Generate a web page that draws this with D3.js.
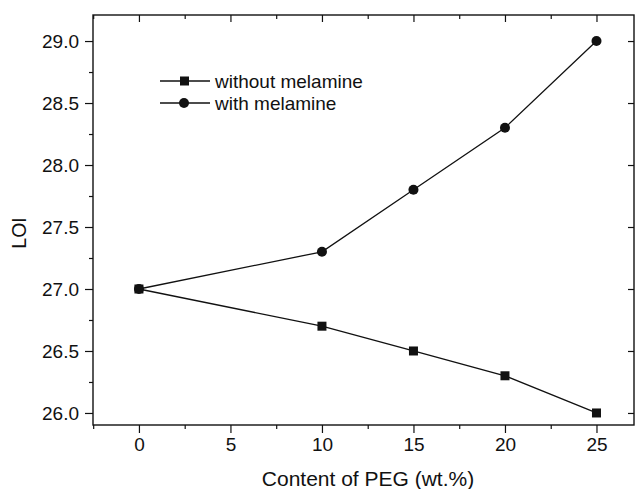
<!DOCTYPE html>
<html><head><meta charset="utf-8">
<script src="https://cdn.jsdelivr.net/npm/d3@7"></script>
<style>body{margin:0;background:#fff}svg{display:block}text{font-family:"Liberation Sans",Arial,sans-serif;fill:#111}</style>
</head><body>
<script>
const xValues = [0, 10, 15, 20, 25];
const withoutMelamine = [27.0, 26.7, 26.5, 26.3, 26.0];
const withMelamine = [27.0, 27.3, 27.8, 28.3, 29.0];
const xTicks = [0, 5, 10, 15, 20, 25];
const yTicks = [26.0, 26.5, 27.0, 27.5, 28.0, 28.5, 29.0];
const seriesNames = ["without melamine", "with melamine"];

const W = 635, H = 489;
const L = 93, R = 634, T = 15, B = 425;
const svg = d3.select("body").append("svg").attr("width", W).attr("height", H);
const x = d3.scaleLinear().domain([-2.51, 27.05]).range([L, R]);
const y = d3.scaleLinear().domain([25.903, 29.21]).range([B, T]);

const ink = "#111";
// frame
svg.append("rect").attr("x", L).attr("y", T).attr("width", R - L).attr("height", B - T)
  .attr("fill", "none").attr("stroke", ink).attr("stroke-width", 1.4);

const xMinor = d3.range(-2.5, 27.1, 2.5).filter(v => !xTicks.includes(v));
const yMinor = d3.range(26.25, 29.2, 0.5);

// bottom axis
const gx = svg.append("g").attr("transform", `translate(0,${B})`)
  .call(d3.axisBottom(x).tickValues(xTicks).tickFormat(d3.format("d")).tickSize(8).tickPadding(5));
gx.select(".domain").remove();
gx.selectAll("text").style("font-size", "19px");
svg.append("g").attr("transform", `translate(0,${B})`)
  .call(d3.axisBottom(x).tickValues(xMinor).tickFormat("").tickSize(4)).select(".domain").remove();
// top axis (inward)
svg.append("g").attr("transform", `translate(0,${T})`)
  .call(d3.axisBottom(x).tickValues(xTicks).tickFormat("").tickSize(7)).select(".domain").remove();
svg.append("g").attr("transform", `translate(0,${T})`)
  .call(d3.axisBottom(x).tickValues(xMinor).tickFormat("").tickSize(4)).select(".domain").remove();
// left axis
const gy = svg.append("g").attr("transform", `translate(${L},0)`)
  .call(d3.axisLeft(y).tickValues(yTicks).tickFormat(d3.format(".1f")).tickSize(8).tickPadding(6));
gy.select(".domain").remove();
gy.selectAll("text").style("font-size", "19px");
svg.append("g").attr("transform", `translate(${L},0)`)
  .call(d3.axisLeft(y).tickValues(yMinor).tickFormat("").tickSize(4)).select(".domain").remove();
// right axis (inward)
svg.append("g").attr("transform", `translate(${R},0)`)
  .call(d3.axisLeft(y).tickValues(yTicks).tickFormat("").tickSize(6)).select(".domain").remove();
svg.selectAll(".tick line").attr("stroke", ink).attr("stroke-width", 1.2);

// axis titles
svg.append("text").attr("x", 368).attr("y", 486).attr("text-anchor", "middle")
  .style("font-size", "21px").text("Content of PEG (wt.%)");
svg.append("text").attr("transform", `translate(25.5,233) rotate(-90)`).attr("text-anchor", "middle")
  .style("font-size", "19.5px").text("LOI");

const line = d3.line().x((d, i) => x(xValues[i])).y(d => y(d));
[withoutMelamine, withMelamine].forEach(s => {
  svg.append("path").datum(s).attr("d", line).attr("fill", "none").attr("stroke", ink).attr("stroke-width", 1.3);
});
svg.append("g").selectAll("rect").data(withoutMelamine).join("rect")
  .attr("x", (d, i) => x(xValues[i]) - 4.5).attr("y", d => y(d) - 4.5)
  .attr("width", 9).attr("height", 9).attr("fill", ink);
svg.append("g").selectAll("circle").data(withMelamine).join("circle")
  .attr("cx", (d, i) => x(xValues[i])).attr("cy", d => y(d)).attr("r", 5).attr("fill", ink);

// legend
const leg = svg.append("g");
[0, 1].forEach(i => {
  const ly = 81 + i * 22;
  leg.append("line").attr("x1", 160).attr("x2", 210).attr("y1", ly).attr("y2", ly).attr("stroke", ink).attr("stroke-width", 1.3);
  if (i === 0) leg.append("rect").attr("x", 180).attr("y", ly - 4.5).attr("width", 9).attr("height", 9).attr("fill", ink);
  else leg.append("circle").attr("cx", 184).attr("cy", ly).attr("r", 5).attr("fill", ink);
  leg.append("text").attr("x", 215).attr("y", ly + 7).style("font-size", "19px").text(seriesNames[i]);
});
</script>
</body></html>
